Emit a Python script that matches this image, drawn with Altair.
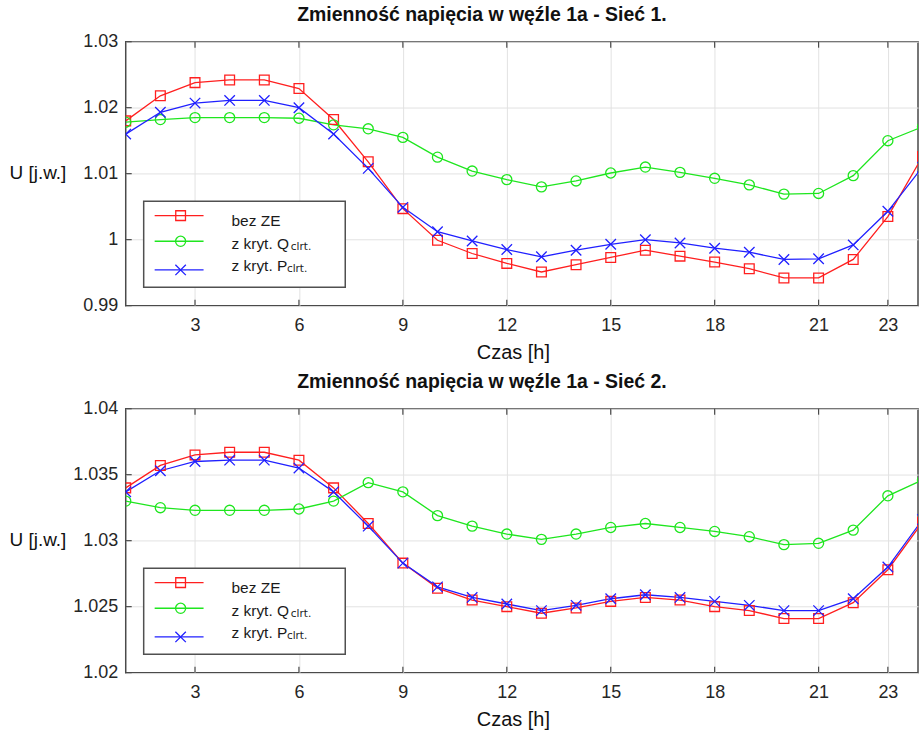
import altair as alt
import pandas as pd

# ---------------- data ----------------
HOURS = list(range(1, 25))
SERIES = ["bez ZE", "z kryt. Qclrt.", "z kryt. Pclrt."]
LEGEND_MAIN = ["bez ZE", "z kryt. Q", "z kryt. P"]
LEGEND_SUB = ["", "clrt.", "clrt."]

TITLE_1 = "Zmienność napięcia w węźle 1a - Sieć 1."
TITLE_2 = "Zmienność napięcia w węźle 1a - Sieć 2."
X_TITLE = "Czas [h]"
Y_TITLE = "U [j.w.]"

X_TICKS = [3, 6, 9, 12, 15, 18, 21, 23]
Y1_TICKS = [0.99, 1.0, 1.01, 1.02, 1.03]
Y2_TICKS = [1.02, 1.025, 1.03, 1.035, 1.04]
Y1_DOMAIN = [0.99, 1.03]
Y2_DOMAIN = [1.02, 1.04]

S1_BEZ = [1.0180, 1.0218, 1.0238, 1.0242, 1.0242, 1.0229, 1.0182, 1.0118, 1.0047, 0.9999,
          0.9979, 0.9964, 0.9951, 0.9962, 0.9973, 0.9984, 0.9975, 0.9966, 0.9956, 0.9942,
          0.9942, 0.9970, 1.0035, 1.0126]
S1_Q = [1.0178, 1.0182, 1.0185, 1.0185, 1.0185, 1.0184, 1.0174, 1.0168, 1.0155, 1.0125,
        1.0104, 1.0091, 1.0080, 1.0089, 1.0101, 1.0110, 1.0102, 1.0093, 1.0083, 1.0069,
        1.0070, 1.0097, 1.0150, 1.0171]
S1_P = [1.0160, 1.0193, 1.0207, 1.0211, 1.0211, 1.0200, 1.0160, 1.0108, 1.0049, 1.0012,
        0.9998, 0.9985, 0.9974, 0.9984, 0.9993, 1.0000, 0.9995, 0.9987, 0.9981, 0.9970,
        0.9971, 0.9992, 1.0043, 1.0110]

S2_BEZ = [1.0340, 1.0357, 1.0365, 1.0367, 1.0367, 1.0361, 1.0340, 1.0313, 1.0283, 1.0264,
          1.0255, 1.0250, 1.0245, 1.0249, 1.0254, 1.0257, 1.0255, 1.0250, 1.0247, 1.0241,
          1.0241, 1.0253, 1.0278, 1.0314]
S2_Q = [1.0330, 1.0325, 1.0323, 1.0323, 1.0323, 1.0324, 1.0330, 1.0344, 1.0337, 1.0319,
        1.0311, 1.0305, 1.0301, 1.0305, 1.0310, 1.0313, 1.0310, 1.0307, 1.0303, 1.0297,
        1.0298, 1.0308, 1.0334, 1.0346]
S2_P = [1.0337, 1.0353, 1.0360, 1.0361, 1.0361, 1.0355, 1.0337, 1.0311, 1.0283, 1.0265,
        1.0257, 1.0252, 1.0247, 1.0251, 1.0256, 1.0259, 1.0257, 1.0254, 1.0251, 1.0247,
        1.0247, 1.0256, 1.0280, 1.0316]

# ---------------- style ----------------
COLORS = ["#ff1f1f", "#1fe61f", "#2020ff"]
SHAPES = ["square", "circle", "M-1,-1L1,1M-1,1L1,-1"]
SIZES = [95, 110, 115]
FRAME = "#4a4a4a"
FONT = "Liberation Sans"
W, H = 794, 264.5
X_MAX = 23.87

# legend geometry (pixels, relative to the plot area)
LEG_BOX = (18, 220, 160, 246)
LEG_LINE_X = (29, 78)
LEG_MARK_X = 55
LEG_TEXT_X = 106
LEG_LINE_Y = [174.3, 200.0, 228.7]
LEG_TEXT_Y = [185.0, 207.5, 230.0]
LEG_SUB_X = [0, 165.5, 161.5]


def panel(title, series_vals, ydom, yticks):
    rows = []
    for name, vals in zip(SERIES, series_vals):
        for h, v in zip(HOURS, vals):
            rows.append({"h": h, "v": v, "s": name})
    df = pd.DataFrame(rows)

    xenc = alt.X(
        "h:Q",
        scale=alt.Scale(domain=[1, X_MAX], nice=False, zero=False),
        title=X_TITLE,
        axis=alt.Axis(values=X_TICKS, labelPadding=11, titlePadding=8,
                      titleX=388, titleFontSize=20),
    )
    yenc = alt.Y(
        "v:Q",
        scale=alt.Scale(domain=ydom, nice=False, zero=False),
        title=Y_TITLE,
        axis=alt.Axis(values=yticks, format="~g", labelPadding=8,
                      titleAngle=0, titleAlign="right", titleBaseline="middle",
                      titleX=-60, titleY=131, titleFontSize=19),
    )
    color = alt.Color("s:N", scale=alt.Scale(domain=SERIES, range=COLORS), legend=None)
    shape = alt.Shape("s:N", scale=alt.Scale(domain=SERIES, range=SHAPES), legend=None)
    size = alt.Size("s:N", scale=alt.Scale(domain=SERIES, range=SIZES), legend=None)

    lines = alt.Chart(df).mark_line(strokeWidth=1.3, clip=True).encode(
        x=xenc, y=yenc, color=color)
    pts = alt.Chart(df).mark_point(filled=False, strokeWidth=1.3, clip=True, opacity=1).encode(
        x=xenc, y=yenc, color=color, shape=shape, size=size)

    xt = pd.DataFrame({"h": X_TICKS})
    yt = pd.DataFrame({"v": yticks})
    top_ticks = alt.Chart(xt).mark_rule(color=FRAME, strokeWidth=1.2).encode(
        x=xenc, y=alt.value(0), y2=alt.value(6))
    bot_ticks = alt.Chart(xt).mark_rule(color=FRAME, strokeWidth=1.2).encode(
        x=xenc, y=alt.value(H - 6), y2=alt.value(H))
    left_ticks = alt.Chart(yt).mark_rule(color=FRAME, strokeWidth=1.2).encode(
        y=yenc, x=alt.value(0), x2=alt.value(6))

    # custom legend
    leg = pd.DataFrame({
        "s": SERIES, "main": LEGEND_MAIN, "sub": LEGEND_SUB,
        "ly": LEG_LINE_Y, "ty": LEG_TEXT_Y, "sx": LEG_SUB_X,
    })
    leg["sy"] = leg["ty"] + 1
    box = alt.Chart(pd.DataFrame({"a": [0]})).mark_rect(
        fill="white", stroke="#505050", strokeWidth=1.5).encode(
        x=alt.value(LEG_BOX[0]), x2=alt.value(LEG_BOX[1]),
        y=alt.value(LEG_BOX[2]), y2=alt.value(LEG_BOX[3]))
    ly = alt.Y("ly:Q", scale=None, axis=None)
    leg_lines = alt.Chart(leg).mark_rule(strokeWidth=1.3).encode(
        x=alt.value(LEG_LINE_X[0]), x2=alt.value(LEG_LINE_X[1]), y=ly, color=color)
    leg_pts = alt.Chart(leg).mark_point(filled=False, strokeWidth=1.3, opacity=1).encode(
        x=alt.value(LEG_MARK_X), y=ly, color=color, shape=shape, size=size)
    leg_text = alt.Chart(leg).mark_text(
        align="left", baseline="alphabetic", font=FONT, fontSize=15.5, color="#1a1a1a").encode(
        x=alt.value(LEG_TEXT_X), y=alt.Y("ty:Q", scale=None, axis=None), text="main:N")
    leg_sub = alt.Chart(leg[leg["sub"] != ""]).mark_text(
        align="left", baseline="alphabetic", font="DejaVu Sans", fontSize=10.5, color="#1a1a1a").encode(
        x=alt.X("sx:Q", scale=None, axis=None), y=alt.Y("sy:Q", scale=None, axis=None), text="sub:N")

    return alt.layer(
        top_ticks, bot_ticks, left_ticks, lines, pts,
        box, leg_lines, leg_pts, leg_text, leg_sub,
    ).properties(
        width=W, height=H,
        title=alt.TitleParams(title, font=FONT, fontSize=19.5, fontWeight="bold",
                              anchor="middle", dx=-40, dy=24, offset=16, baseline="alphabetic",
                              frame="group", color="#111111"),
    )


p1 = panel(TITLE_1, [S1_BEZ, S1_Q, S1_P], Y1_DOMAIN, Y1_TICKS)
p2 = panel(TITLE_2, [S2_BEZ, S2_Q, S2_P], Y2_DOMAIN, Y2_TICKS)

chart = alt.vconcat(p1, p2, spacing=102.8, bounds="flush").properties(
    padding={"left": 8, "top": 3, "right": 0, "bottom": 0},
    background="white",
).configure_view(
    stroke=FRAME, strokeWidth=1.5,
).configure_axis(
    grid=True, gridColor="#e2e2e2", gridWidth=1,
    domain=False, ticks=False, tickSize=0,
    labelFont=FONT, labelFontSize=18, labelColor="#262626",
    titleFont=FONT, titleFontWeight="normal", titleColor="#111111",
)

chart.save("out.html", embed_options={"renderer": "svg", "actions": False})
